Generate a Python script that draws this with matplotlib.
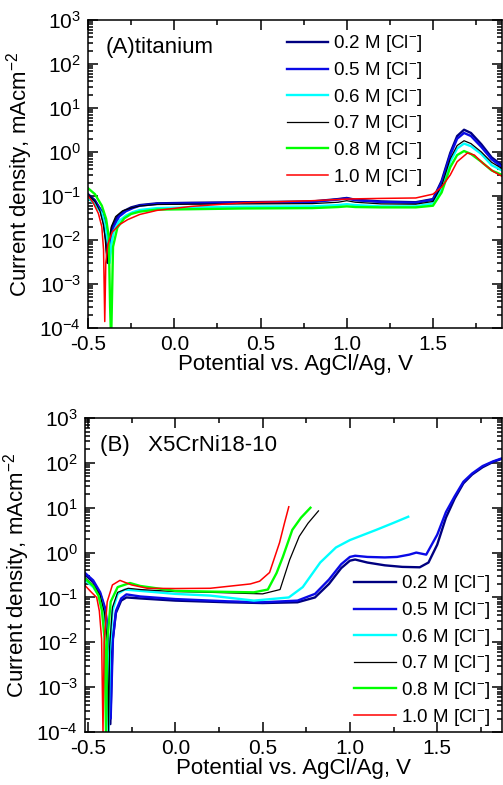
import matplotlib
matplotlib.use('Agg')
import matplotlib.pyplot as plt
from matplotlib.ticker import MultipleLocator, LogLocator, FormatStrFormatter, NullFormatter

plt.rcParams['font.family'] = ['Liberation Sans', 'DejaVu Sans']
plt.rcParams['mathtext.fontset'] = 'custom'
plt.rcParams['mathtext.rm'] = 'Liberation Sans'
plt.rcParams['mathtext.it'] = 'Liberation Sans'
plt.rcParams['mathtext.default'] = 'regular'
plt.rcParams['axes.unicode_minus'] = False

labels = ['0.2 M [Cl$^{-}$]', '0.5 M [Cl$^{-}$]', '0.6 M [Cl$^{-}$]',
          '0.7 M [Cl$^{-}$]', '0.8 M [Cl$^{-}$]', '1.0 M [Cl$^{-}$]']
colors = ['#000080', '#0a0ae6', '#00ffff', '#000000', '#00ff00', '#ff0000']
widths = [1.7, 1.7, 1.7, 0.9, 1.7, 1.1]

# (A) titanium, potential in V, current density in mA/cm2
ti_v = [
    [-0.5, -0.46, -0.43, -0.41, -0.395, -0.385, -0.375, -0.36, -0.33, -0.29, -0.25, -0.2, -0.1, 0.1, 0.4, 0.8, 0.95, 1.0, 1.05, 1.2, 1.4, 1.5, 1.55, 1.6, 1.64, 1.68, 1.72, 1.78, 1.84, 1.9],
    [-0.5, -0.46, -0.42, -0.4, -0.385, -0.375, -0.365, -0.35, -0.32, -0.28, -0.24, -0.2, -0.1, 0.1, 0.4, 0.8, 0.95, 1.0, 1.05, 1.2, 1.4, 1.5, 1.55, 1.6, 1.64, 1.68, 1.72, 1.78, 1.84, 1.9],
    [-0.5, -0.46, -0.42, -0.4, -0.385, -0.375, -0.365, -0.35, -0.32, -0.28, -0.24, -0.2, -0.1, 0.1, 0.4, 0.8, 0.95, 1.0, 1.05, 1.2, 1.4, 1.5, 1.55, 1.6, 1.64, 1.68, 1.72, 1.78, 1.84, 1.9],
    [-0.5, -0.46, -0.43, -0.41, -0.4, -0.39, -0.38, -0.365, -0.34, -0.3, -0.25, -0.2, -0.1, 0.1, 0.4, 0.8, 0.95, 1.0, 1.05, 1.2, 1.4, 1.5, 1.55, 1.6, 1.64, 1.68, 1.72, 1.78, 1.84, 1.9],
    [-0.5, -0.46, -0.42, -0.395, -0.38, -0.372, -0.366, -0.355, -0.33, -0.29, -0.25, -0.2, -0.1, 0.1, 0.4, 0.8, 0.95, 1.0, 1.05, 1.2, 1.4, 1.5, 1.55, 1.6, 1.64, 1.68, 1.72, 1.78, 1.84, 1.9],
    [-0.5, -0.47, -0.44, -0.42, -0.41, -0.403, -0.397, -0.385, -0.36, -0.32, -0.27, -0.2, -0.1, 0.1, 0.4, 0.8, 0.95, 1.0, 1.05, 1.2, 1.4, 1.5, 1.55, 1.6, 1.64, 1.7, 1.74, 1.79, 1.85, 1.9],
]
ti_i = [
    [0.11, 0.08, 0.05, 0.025, 0.01, 0.003, 0.009, 0.02, 0.034, 0.046, 0.055, 0.062, 0.068, 0.07, 0.072, 0.075, 0.085, 0.09, 0.082, 0.075, 0.072, 0.085, 0.22, 0.95, 2.3, 3.2, 2.7, 1.5, 0.75, 0.5],
    [0.1, 0.075, 0.045, 0.025, 0.012, 0.004, 0.01, 0.02, 0.034, 0.045, 0.053, 0.06, 0.066, 0.068, 0.07, 0.073, 0.083, 0.088, 0.08, 0.073, 0.07, 0.082, 0.2, 0.85, 2.0, 2.7, 2.3, 1.3, 0.68, 0.45],
    [0.09, 0.065, 0.04, 0.02, 0.009, 0.003, 0.008, 0.016, 0.027, 0.036, 0.043, 0.048, 0.053, 0.055, 0.057, 0.058, 0.062, 0.065, 0.062, 0.058, 0.058, 0.068, 0.15, 0.6, 1.2, 1.55, 1.35, 0.9, 0.5, 0.38],
    [0.105, 0.075, 0.045, 0.022, 0.01, 0.003, 0.009, 0.02, 0.034, 0.046, 0.053, 0.059, 0.064, 0.065, 0.066, 0.067, 0.072, 0.078, 0.072, 0.066, 0.065, 0.075, 0.17, 0.7, 1.4, 1.8, 1.55, 1.0, 0.58, 0.42],
    [0.15, 0.11, 0.06, 0.03, 0.012, 0.0003, 0.00005, 0.007, 0.019, 0.031, 0.039, 0.044, 0.049, 0.05, 0.052, 0.053, 0.056, 0.058, 0.056, 0.055, 0.055, 0.06, 0.12, 0.45, 0.85, 1.05, 0.9, 0.6, 0.38, 0.3],
    [0.1, 0.07, 0.04, 0.02, 0.006, 0.00014, 0.003, 0.008, 0.015, 0.022, 0.029, 0.038, 0.047, 0.058, 0.07, 0.078, 0.083, 0.085, 0.086, 0.088, 0.09, 0.11, 0.16, 0.3, 0.6, 0.95, 0.85, 0.55, 0.36, 0.28],
]

# (B) X5CrNi18-10
ss_v = [
    [-0.52, -0.47, -0.43, -0.4, -0.385, -0.372, -0.36, -0.34, -0.31, -0.28, -0.2, 0.0, 0.3, 0.5, 0.7, 0.8, 0.88, 0.95, 1.0, 1.03, 1.1, 1.2, 1.3, 1.4, 1.45, 1.5, 1.55, 1.6, 1.65, 1.7, 1.76, 1.82, 1.875],
    [-0.52, -0.47, -0.43, -0.4, -0.385, -0.37, -0.357, -0.34, -0.31, -0.28, -0.2, 0.0, 0.3, 0.5, 0.7, 0.8, 0.88, 0.95, 1.0, 1.03, 1.1, 1.2, 1.27, 1.34, 1.38, 1.437, 1.5, 1.55, 1.6, 1.65, 1.7, 1.76, 1.82, 1.875],
    [-0.52, -0.47, -0.43, -0.405, -0.39, -0.382, -0.375, -0.36, -0.33, -0.29, -0.2, 0.0, 0.2, 0.45, 0.65, 0.73, 0.83, 0.92, 1.0, 1.15, 1.25, 1.334],
    [-0.52, -0.47, -0.43, -0.405, -0.39, -0.382, -0.376, -0.36, -0.33, -0.27, -0.2, 0.0, 0.2, 0.5, 0.6, 0.655, 0.71, 0.76, 0.82],
    [-0.52, -0.47, -0.44, -0.42, -0.405, -0.397, -0.39, -0.37, -0.33, -0.26, -0.2, 0.0, 0.2, 0.45, 0.53, 0.58, 0.616, 0.67, 0.72, 0.774],
    [-0.52, -0.48, -0.45, -0.435, -0.422, -0.414, -0.407, -0.39, -0.36, -0.317, -0.25, -0.16, 0.0, 0.2, 0.43, 0.483, 0.54, 0.597, 0.625, 0.65],
]
ss_i = [
    [0.33, 0.22, 0.12, 0.05, 0.012, 0.00015, 0.01, 0.045, 0.085, 0.1, 0.095, 0.085, 0.078, 0.075, 0.078, 0.1, 0.2, 0.45, 0.66, 0.7, 0.6, 0.52, 0.48, 0.47, 0.6, 1.5, 6.0, 16.0, 35.0, 55.0, 80.0, 105.0, 125.0],
    [0.36, 0.24, 0.13, 0.055, 0.015, 0.0002, 0.012, 0.05, 0.095, 0.117, 0.105, 0.092, 0.082, 0.078, 0.085, 0.12, 0.25, 0.55, 0.8, 0.85, 0.8, 0.78, 0.8, 0.9, 1.0, 0.9, 2.5, 8.0, 18.0, 38.0, 58.0, 85.0, 108.0, 128.0],
    [0.25, 0.17, 0.1, 0.04, 0.01, 0.0001, 0.006, 0.05, 0.12, 0.15, 0.14, 0.12, 0.11, 0.085, 0.1, 0.17, 0.6, 1.3, 1.9, 3.2, 4.6, 6.3],
    [0.28, 0.19, 0.11, 0.045, 0.01, 0.0001, 0.008, 0.06, 0.13, 0.16, 0.15, 0.135, 0.13, 0.12, 0.15, 0.69, 2.3, 4.5, 8.5],
    [0.27, 0.18, 0.11, 0.05, 0.012, 0.0001, 0.01, 0.08, 0.17, 0.21, 0.18, 0.14, 0.135, 0.13, 0.15, 0.35, 0.8, 3.2, 6.0, 10.0],
    [0.19, 0.13, 0.1, 0.05, 0.012, 0.0001, 0.01, 0.08, 0.19, 0.24, 0.19, 0.16, 0.158, 0.16, 0.2, 0.23, 0.36, 1.66, 4.5, 10.5],
]

fig = plt.figure(figsize=(5.03, 7.85), dpi=100)
ax1 = fig.add_axes([0.175, 0.5822, 0.823, 0.3924])
ax2 = fig.add_axes([0.169, 0.0675, 0.829, 0.40])


def style(ax, xmin, xmax):
    ax.set_yscale('log')
    ax.set_ylim(1e-4, 1e3)
    ax.set_xlim(xmin, xmax)
    ax.xaxis.set_major_locator(MultipleLocator(0.5))
    ax.xaxis.set_minor_locator(MultipleLocator(0.25))
    ax.xaxis.set_major_formatter(FormatStrFormatter('%.1f'))
    ax.yaxis.set_major_locator(LogLocator(base=10, numticks=20))
    ax.yaxis.set_minor_locator(LogLocator(base=10, subs=range(2, 10), numticks=20))
    ax.yaxis.set_minor_formatter(NullFormatter())
    ax.tick_params(which='both', direction='in', top=True, right=True, labelsize=15, width=1.1)
    ax.tick_params(which='major', length=7, pad=5)
    ax.tick_params(which='minor', length=3.5)
    for s in ax.spines.values():
        s.set_linewidth(1.1)
    ax.set_xlabel('Potential vs. AgCl/Ag, V', fontsize=16, labelpad=0)
    ax.set_ylabel('Current density, mAcm$^{-2}$', fontsize=16, labelpad=3)


for k in range(6):
    ax1.plot(ti_v[k], ti_i[k], color=colors[k], lw=widths[k], label=labels[k])
    ax2.plot(ss_v[k], ss_i[k], color=colors[k], lw=widths[k], label=labels[k])

style(ax1, -0.5, 1.9)
style(ax2, -0.517, 1.871)

ax1.text(0.043, 0.912, '(A)titanium', transform=ax1.transAxes, fontsize=16, va='center')
ax2.text(0.036, 0.914, '(B)   X5CrNi18-10', transform=ax2.transAxes, fontsize=16, va='center')

leg_kw = dict(frameon=False, fontsize=13.5, handlelength=2.2, handletextpad=0.27,
              labelspacing=0.3, borderpad=0, borderaxespad=0, loc='upper left')
ax1.legend(bbox_to_anchor=(0.48, 0.956), **leg_kw)
ax2.legend(bbox_to_anchor=(0.646, 0.505), **leg_kw)

fig.savefig('out.png', dpi=100)
